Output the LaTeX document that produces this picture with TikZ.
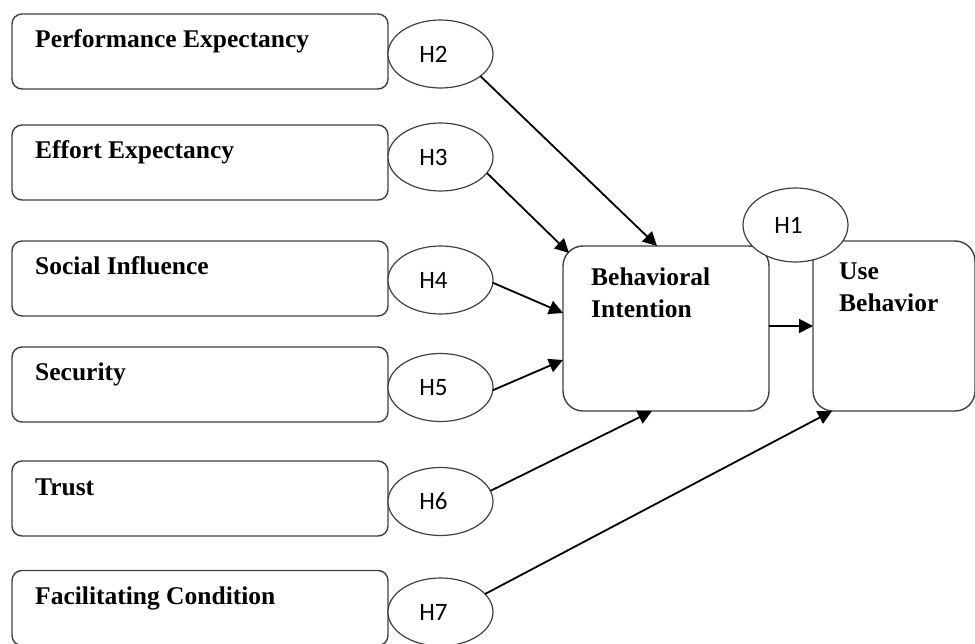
\documentclass[tikz,border=0pt]{standalone}
\usepackage{fontspec}
\setmainfont{Liberation Serif}
\newfontfamily\carlito{Carlito}
\usetikzlibrary{shapes.geometric,arrows.meta}

\tikzset{
  factor/.style={draw=black!75, line width=1.4pt, rounded corners=10pt,
    minimum width=376pt, minimum height=75pt, inner sep=0pt, outer sep=0pt},
  core/.style={draw=black!75, line width=1.4pt, rounded corners=20pt,
    inner sep=0pt, outer sep=0pt, fill=white},
  hyp/.style={ellipse, draw=black!75, line width=1.2pt, fill=white,
    minimum width=105pt, minimum height=68pt, inner sep=0pt, outer sep=0pt,
    font=\carlito\fontsize{25}{30}\selectfont,
    execute at begin node={\hspace*{-14pt}}},
  lbl/.style={anchor=base west, inner sep=0pt,
    font=\bfseries\fontsize{25.5}{32}\selectfont},
  link/.style={line width=1.8pt, -{Triangle[length=14pt,width=14pt]}}
}

\begin{document}
\begin{tikzpicture}[x=1pt,y=-1pt]
    \useasboundingbox (0,0) rectangle (975,644);

    % determinants
    \node[factor] (pe) at (200,51.5) {};
    \node[factor] (ee) at (200,162.5) {};
    \node[factor] (si) at (200,278.5) {};
    \node[factor] (sec) at (200,384.5) {};
    \node[factor] (tr) at (200,498.5) {};
    \node[factor] (fc) at (200,608) {};

    \node[lbl] (pet) at ([xshift=23pt,yshift=-34pt]pe.north west) {Performance Expectancy};
    \node[lbl] (eet) at ([xshift=23pt,yshift=-34pt]ee.north west) {Effort Expectancy};
    \node[lbl] (sit) at ([xshift=23pt,yshift=-34pt]si.north west) {Social Influence};
    \node[lbl] (sect) at ([xshift=23pt,yshift=-34pt]sec.north west) {Security};
    \node[lbl] (trt) at ([xshift=23pt,yshift=-34pt]tr.north west) {Trust};
    \node[lbl] (fct) at ([xshift=23pt,yshift=-34pt]fc.north west) {Facilitating Condition};

    % intention and behaviour
    \node[core, minimum width=206pt, minimum height=165pt] (bi) at (666,328.5) {};
    \node[core, minimum width=162pt, minimum height=170pt] (ub) at (894,326) {};

    \node[lbl] (bit1) at ([xshift=28pt,yshift=-40pt]bi.north west) {Behavioral};
    \node[lbl] (bit2) at ([xshift=28pt,yshift=-72pt]bi.north west) {Intention};
    \node[lbl] (ubt1) at ([xshift=26pt,yshift=-39pt]ub.north west) {Use};
    \node[lbl] (ubt2) at ([xshift=26pt,yshift=-71pt]ub.north west) {Behavior};

    % hypotheses
    \node[hyp] (h2) at (440.5,54) {H2};
    \node[hyp] (h3) at (440.5,157) {H3};
    \node[hyp] (h4) at (440.5,280) {H4};
    \node[hyp] (h5) at (440.5,387.5) {H5};
    \node[hyp] (h6) at (440.5,501.5) {H6};
    \node[hyp] (h7) at (440.5,612) {H7};
    \node[hyp, minimum height=74pt] (h1) at (795.5,225) {H1};

    \draw[link] (h2.-29) -- ([xshift=94pt]bi.north west);
    \draw[link] (h3.-19) -- ([xshift=6pt,yshift=-7pt]bi.north west);
    \draw[link] (h4.-3) -- ([yshift=15.5pt]bi.west);
    \draw[link] (h5.-3) -- ([yshift=-31.5pt]bi.west);
    \draw[link] (h6.12) -- ([xshift=89pt]bi.south west);
    \draw[link] (h7.22) -- ([xshift=19pt]ub.south west);
    \draw[link] (bi.east |- ub.west) -- (ub.west);
\end{tikzpicture}
\end{document}
